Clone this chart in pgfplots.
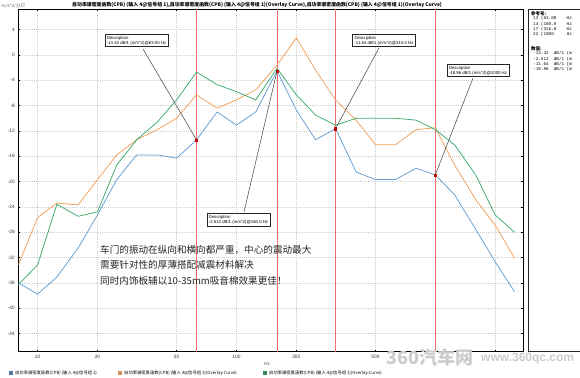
\documentclass[border=0pt]{standalone}
\usepackage{pgfplots}
\pgfplotsset{compat=1.18}
\usepackage{pgfplotstable}
\usepackage{fontspec}
\setmainfont{Liberation Sans}
\newfontfamily\cjk[AutoFakeSlant=0.2]{Noto Sans CJK SC}
\newfontfamily\monof{Liberation Mono}
\definecolor{cblue}{RGB}{100,158,210}
\definecolor{corange}{RGB}{242,160,90}
\definecolor{cgreen}{RGB}{60,172,110}
\definecolor{cred}{RGB}{242,110,110}
\pgfplotstableread{
f     b       o      g
8     -36.0  -33.2  -36.3
10    -37.8  -25.7  -33.2
12.5  -35.1  -23.4  -23.6
16    -30.5  -23.7  -25.5
20    -25.3  -19.7  -24.8
25    -19.7  -15.8  -17.4
31.5  -15.8  -13.4  -13.4
40    -15.8  -11.8  -10.6
50    -16.3  -10.0   -7.1
63    -13.42  -6.3   -2.7
80     -9.0   -8.4   -4.7
100   -11.1   -7.1   -5.8
125    -9.0   -5.5   -7.1
160    -2.512 -1.6   -2.1
200    -8.7    2.7   -6.3
250   -13.4   -2.4   -9.5
315   -11.64  -7.1  -11.1
400   -18.5  -10.3  -10.0
500   -19.7  -14.2  -10.0
630   -19.7  -14.2  -10.0
800   -17.9  -11.8  -10.3
1000  -18.96 -11.5  -11.8
1250  -22.1  -17.4  -14.2
1600  -27.6  -22.9  -19.0
2000  -32.7  -26.9  -25.3
2500  -37.4  -32.1  -28.0
}\datatab
\begin{document}
\begin{tikzpicture}[x=1pt,y=1pt]
\useasboundingbox (0,0) rectangle (580,377);
\fill[white] (0,0) rectangle (580,377);
\begin{axis}[
  at={(18.3pt,25.3pt)}, anchor=south west,
  width=504.7pt, height=342.7pt, scale only axis,
  xmode=log, xmin=8, xmax=2760, ymin=-46.9, ymax=7.27,
  xtick={10,20,50,100,200,500,1000,2000},
  xticklabels={10,20,50,100,200,500,,},
  ytick={-44,-40,...,4},
  minor xtick={}, 
  grid=major,
  major grid style={gray!40, dash pattern=on 0.8pt off 1.2pt},
  axis line style={black, line width=0.9pt},
  tick style={black, thin},
  major tick length=2pt,
  tick label style={font=\fontsize{4.8}{5}\selectfont, text=black!80},
  /pgf/number format/assume math mode=true,
  clip=true,
]
\addplot[cred, line width=0.9pt] coordinates {(63,-46.9) (63,7.27)};
\addplot[cred, line width=0.9pt] coordinates {(160,-46.9) (160,7.27)};
\addplot[cred, line width=0.9pt] coordinates {(315,-46.9) (315,7.27)};
\addplot[cred, line width=0.9pt] coordinates {(1000,-46.9) (1000,7.27)};
\addplot[cblue, line width=0.75pt] table[x=f,y=b] {\datatab};
\addplot[corange, line width=0.75pt] table[x=f,y=o] {\datatab};
\addplot[cgreen, line width=0.75pt] table[x=f,y=g] {\datatab};
\addplot[only marks, mark=square*, mark size=1.1pt, red!80!black] coordinates {(63,-13.42) (160,-2.512) (315,-11.64) (1000,-18.96)};
\coordinate (m1) at (axis cs:63,-13.42);
\coordinate (m2) at (axis cs:160,-2.512);
\coordinate (m3) at (axis cs:315,-11.64);
\coordinate (m4) at (axis cs:1000,-18.96);
\end{axis}
% leader lines
\draw[black!75, line width=0.5pt] (143,328) -- (m1);
\draw[black!75, line width=0.5pt] (244,165) -- (m2);
\draw[black!75, line width=0.5pt] (379,329) -- (m3);
\draw[black!75, line width=0.5pt] (473,299) -- (m4);
% annotation boxes
\tikzset{desc/.style={draw=black!85, line width=0.8pt, fill=white, align=left, inner xsep=2pt, inner ysep=1.5pt, font=\fontsize{4.3}{5.2}\selectfont}}
\node[desc] at (136.5,336.5) {Description\\-13.42 dB/1 (m/s\^{}2)@63.00 Hz};
\node[desc] at (238.5,157) {Description\\-2.512 dB/1 (m/s\^{}2)@160.0 Hz};
\node[desc] at (384,336.5) {Description\\-11.64 dB/1 (m/s\^{}2)@315.0 Hz};
\node[desc] at (478,306.5) {Description\\-18.96 dB/1 (m/s\^{}2)@1000 Hz};
% chinese note
\node[anchor=north west, align=left, inner sep=0pt, font=\cjk\fontsize{9.6}{15.5}\selectfont, text=black!85] at (100,132)
 {车门的振动在纵向和横向都严重，中心的震动最大\\需要针对性的厚薄搭配减震材料解决\\同时内饰板辅以10-35mm吸音棉效果更佳！};
% title
\node[font=\cjk\bfseries\itshape\fontsize{4.9}{5}\selectfont, anchor=west, inner sep=0pt] at (72,372)
 {自功率谱密度函数(CPB) (输入 4@信号组 1),自功率谱密度函数(CPB) (输入 4@信号组 1)(Overlay Curve),自功率谱密度函数(CPB) (输入 4@信号组 1)(Overlay Curve)};
% y unit
\node[font=\cjk\itshape\fontsize{4.5}{5}\selectfont, text=black!60, anchor=west, inner sep=0pt] at (1,371) {m/s\^{}2/分贝};
% Hz label
\node[font=\fontsize{4.5}{5}\selectfont, text=black!70, inner sep=0pt] at (267,13) {Hz};
% right panel
\draw[black!85, line width=0.9pt] (528,26) rectangle (581,368);
\node[anchor=north west, align=left, inner sep=0pt, font=\cjk\bfseries\itshape\fontsize{4.5}{5}\selectfont] at (531,366) {参考号:};
\node[anchor=north west, align=left, inner sep=0pt, font=\monof\fontsize{4.3}{5.2}\selectfont] at (533,360.5)
 {13 (63.00~~~~Hz\\14 (160.0~~~~Hz\\17 (316.0~~~~Hz\\22 (1000~~~~~Hz};
\node[anchor=north west, align=left, inner sep=0pt, font=\cjk\bfseries\itshape\fontsize{4.5}{5}\selectfont] at (531,331) {数值:};
\node[anchor=north west, align=left, inner sep=0pt, font=\monof\fontsize{4.3}{5.2}\selectfont] at (533,325.5)
 {-13.42~~dB/1 (m\\-2.512~~dB/1 (m\\-11.64~~dB/1 (m\\-18.96~~dB/1 (m};
% legend
\tikzset{lgsq/.style={minimum size=4pt, inner sep=0pt}}
\node[lgsq, fill=cblue!80!black] at (11,4) {};
\node[anchor=west, inner sep=0pt, font=\cjk\fontsize{4.3}{5}\selectfont] at (15,4) {自功率谱密度函数(CPB) (输入 4@信号组 1)};
\node[lgsq, fill=corange!90!black] at (120,4) {};
\node[anchor=west, inner sep=0pt, font=\cjk\fontsize{4.3}{5}\selectfont] at (124,4) {自功率谱密度函数(CPB) (输入 4@信号组 1)(Overlay Curve)};
\node[lgsq, fill=cgreen!80!black] at (265,4) {};
\node[anchor=west, inner sep=0pt, font=\cjk\fontsize{4.3}{5}\selectfont] at (269,4) {自功率谱密度函数(CPB) (输入 4@信号组 1)(Overlay Curve)};
% watermark
\node[anchor=west, inner sep=0pt, font=\cjk\bfseries\fontsize{18}{18}\selectfont, text=gray!40] at (386,19) {360汽车网};
\node[anchor=west, inner sep=0pt, font=\bfseries\fontsize{12}{12}\selectfont, text=gray!40] at (481,18) {www.360qc.com};
\end{tikzpicture}
\end{document}
